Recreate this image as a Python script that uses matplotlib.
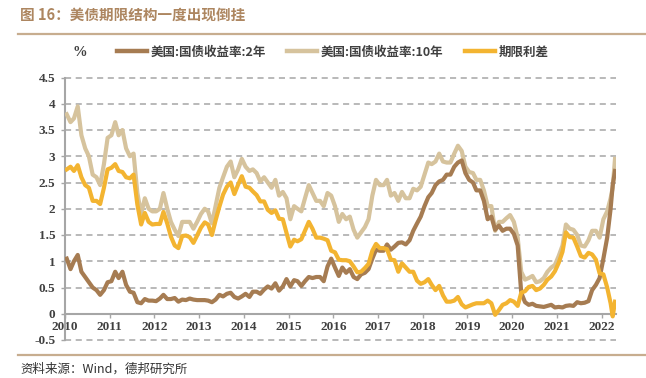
import matplotlib.pyplot as plt
import matplotlib.dates as mdates
from matplotlib.ticker import FixedLocator, FuncFormatter
import pandas as pd

plt.rcParams['font.family'] = ['Noto Sans CJK SC', 'DejaVu Sans']

# monthly readings (mid-month), Jan 2010 - Mar 2022, then 2022-04-01 and 2022-04-20
dates = list(pd.period_range('2010-01', '2022-03', freq='M').to_timestamp() + pd.Timedelta(days=14))
dates += [pd.Timestamp('2022-04-01'), pd.Timestamp('2022-04-20')]

us2y = [
    1.05, 0.85, 1.00, 1.12, 0.80, 0.70, 0.60, 0.50, 0.45, 0.36, 0.45, 0.60,
    0.62, 0.80, 0.68, 0.80, 0.55, 0.42, 0.40, 0.22, 0.20, 0.28, 0.25, 0.25,
    0.24, 0.29, 0.36, 0.28, 0.28, 0.30, 0.23, 0.27, 0.26, 0.29, 0.27, 0.26,
    0.26, 0.26, 0.25, 0.22, 0.27, 0.36, 0.33, 0.38, 0.40, 0.32, 0.29, 0.33,
    0.38, 0.32, 0.42, 0.42, 0.38, 0.46, 0.52, 0.48, 0.58, 0.44, 0.52, 0.66,
    0.52, 0.64, 0.62, 0.53, 0.62, 0.70, 0.68, 0.70, 0.70, 0.62, 0.90, 1.05,
    0.88, 0.72, 0.88, 0.78, 0.85, 0.70, 0.66, 0.75, 0.78, 0.85, 1.05, 1.22,
    1.20, 1.20, 1.32, 1.22, 1.28, 1.35, 1.36, 1.32, 1.40, 1.58, 1.72, 1.85,
    2.05, 2.22, 2.30, 2.45, 2.52, 2.55, 2.65, 2.65, 2.80, 2.88, 2.92, 2.68,
    2.55, 2.50, 2.35, 2.35, 2.15, 1.80, 1.85, 1.60, 1.68, 1.58, 1.62, 1.62,
    1.52, 1.30, 0.40, 0.22, 0.17, 0.19, 0.15, 0.14, 0.13, 0.15, 0.17, 0.12,
    0.13, 0.12, 0.15, 0.16, 0.15, 0.22, 0.20, 0.21, 0.24, 0.45, 0.55, 0.68,
    1.05, 1.45, 2.00, 2.45, 2.72,
]
us10y = [
    3.80, 3.65, 3.72, 3.95, 3.40, 3.15, 3.00, 2.65, 2.60, 2.45, 2.85, 3.35,
    3.40, 3.65, 3.40, 3.50, 3.15, 3.00, 3.05, 2.30, 1.90, 2.20, 2.00, 1.95,
    1.95, 2.00, 2.30, 2.00, 1.75, 1.60, 1.48, 1.75, 1.75, 1.75, 1.62, 1.75,
    1.90, 2.00, 1.95, 1.72, 2.05, 2.40, 2.60, 2.80, 2.90, 2.60, 2.75, 2.95,
    2.80, 2.72, 2.75, 2.68, 2.52, 2.60, 2.50, 2.40, 2.55, 2.25, 2.32, 2.20,
    1.80, 2.05, 2.00, 1.95, 2.20, 2.45, 2.30, 2.15, 2.15, 2.05, 2.30, 2.25,
    2.05, 1.75, 1.90, 1.80, 1.85, 1.60, 1.45, 1.55, 1.65, 1.80, 2.25, 2.55,
    2.45, 2.45, 2.55, 2.25, 2.30, 2.15, 2.32, 2.20, 2.20, 2.38, 2.35, 2.42,
    2.65, 2.88, 2.85, 2.90, 3.05, 2.90, 2.88, 2.88, 3.05, 3.20, 3.10, 2.80,
    2.70, 2.68, 2.55, 2.55, 2.35, 2.05, 2.05, 1.58, 1.75, 1.75, 1.82, 1.88,
    1.75, 1.45, 0.80, 0.65, 0.68, 0.72, 0.60, 0.62, 0.68, 0.80, 0.88, 0.93,
    1.10, 1.30, 1.70, 1.62, 1.60, 1.50, 1.30, 1.28, 1.40, 1.58, 1.58, 1.45,
    1.80, 1.95, 2.20, 2.40, 2.95,
]
spread = [
    2.75, 2.80, 2.72, 2.83, 2.60, 2.45, 2.40, 2.15, 2.15, 2.09, 2.40, 2.75,
    2.78, 2.85, 2.72, 2.70, 2.60, 2.58, 2.65, 2.08, 1.70, 1.92, 1.75, 1.70,
    1.71, 1.71, 1.94, 1.72, 1.47, 1.30, 1.25, 1.48, 1.49, 1.46, 1.35, 1.49,
    1.64, 1.74, 1.70, 1.50, 1.78, 2.04, 2.27, 2.42, 2.50, 2.28, 2.46, 2.62,
    2.42, 2.40, 2.33, 2.26, 2.14, 2.14, 1.98, 1.92, 1.97, 1.81, 1.80, 1.54,
    1.28, 1.41, 1.38, 1.42, 1.58, 1.75, 1.62, 1.45, 1.45, 1.43, 1.40, 1.20,
    1.17, 1.03, 1.02, 1.02, 1.00, 0.90, 0.79, 0.80, 0.87, 0.95, 1.20, 1.33,
    1.25, 1.25, 1.23, 1.03, 1.02, 0.80, 0.96, 0.88, 0.80, 0.80, 0.63, 0.57,
    0.60, 0.66, 0.55, 0.45, 0.53, 0.35, 0.23, 0.23, 0.25, 0.32, 0.18, 0.12,
    0.15, 0.18, 0.20, 0.20, 0.20, 0.25, 0.20, -0.02, 0.07, 0.17, 0.20, 0.26,
    0.23, 0.15, 0.40, 0.43, 0.51, 0.53, 0.45, 0.48, 0.55, 0.65, 0.71, 0.81,
    0.97, 1.18, 1.55, 1.46, 1.45, 1.28, 1.10, 1.07, 1.16, 1.13, 1.03, 0.77,
    0.75, 0.50, 0.20, -0.05, 0.23,
]

years = list(range(2010, 2023))
y_ticks = [-0.5, 0, 0.5, 1, 1.5, 2, 2.5, 3, 3.5, 4, 4.5]
labels = ['美国:国债收益率:2年', '美国:国债收益率:10年', '期限利差']

c2y, c10y, csp = '#a67c52', '#d6c39d', '#f3b431'
grid_c = '#a6a6a6'
tick_font = dict(family='Liberation Serif', weight='bold', size=9.5)

fig = plt.figure(figsize=(6.46, 3.78), dpi=100)
ax = fig.add_axes([65 / 646, 1 - 340 / 378, (616 - 65) / 646, (340 - 77.5) / 378])

l10, = ax.plot(dates, us10y, color=c10y, lw=3.0, zorder=3)
l2, = ax.plot(dates, us2y, color=c2y, lw=3.0, zorder=4)
lsp, = ax.plot(dates, spread, color=csp, lw=3.0, zorder=5)

ax.set_ylim(-0.5, 4.5)
ax.set_xlim(pd.Timestamp('2010-01-01'), pd.Timestamp('2022-04-28'))
ax.yaxis.set_major_locator(FixedLocator(y_ticks))
ax.yaxis.set_major_formatter(FuncFormatter(lambda v, p: f'{v:g}'))
ax.xaxis.set_major_locator(mdates.YearLocator())
ax.xaxis.set_major_formatter(mdates.DateFormatter('%Y'))

for v in y_ticks:
    if v != 0:
        ax.axhline(v, color=grid_c, lw=1.1, ls=(0, (4, 3)), zorder=1, clip_on=False)

for s in ['top', 'right']:
    ax.spines[s].set_visible(False)
ax.spines['bottom'].set_position(('data', 0))
ax.spines['left'].set_color(grid_c)
ax.spines['bottom'].set_color(grid_c)
ax.spines['left'].set_linewidth(1.5)
ax.spines['bottom'].set_linewidth(1.5)
ax.tick_params(axis='both', colors=grid_c, length=3, width=1, direction='out')
ax.tick_params(axis='x', pad=2)
ax.tick_params(axis='y', pad=4)
for lab in ax.get_xticklabels() + ax.get_yticklabels():
    lab.set_fontproperties(tick_font)
    lab.set_color('#404040')

leg = ax.legend([l2, l10, lsp], labels, ncol=3, frameon=False,
                loc='center left', bbox_to_anchor=(117 / 646, 1 - 52 / 378),
                bbox_transform=fig.transFigure, borderaxespad=0, borderpad=0,
                handlelength=2.4, handletextpad=0.3, columnspacing=1.7,
                prop=dict(family=['Noto Sans CJK SC', 'DejaVu Sans'], weight='bold', size=9))
for t in leg.get_texts():
    t.set_color('#404040')
for h in leg.legend_handles:
    h.set_linewidth(3.2)

fig.text(72 / 646, 1 - 52 / 378, '%', fontsize=10.5, fontweight='bold', color='#404040',
         family='Liberation Serif', va='center')
fig.text(20 / 646, 1 - 15 / 378, '图 16：美债期限结构一度出现倒挂', fontsize=10.5,
         fontweight='bold', color='#ad8660', va='center', ha='left')
fig.add_artist(plt.Line2D([18 / 646, 1], [1 - 34 / 378] * 2, color='#c7ad8f', lw=1.6))
fig.add_artist(plt.Line2D([18 / 646, 1], [1 - 355 / 378] * 2, color='#c7ad8f', lw=1.6))
fig.text(20 / 646, 1 - 369 / 378, '资料来源：Wind，德邦研究所', fontsize=9,
         color='#333333', va='center', ha='left')

fig.savefig('out.png', dpi=100)
